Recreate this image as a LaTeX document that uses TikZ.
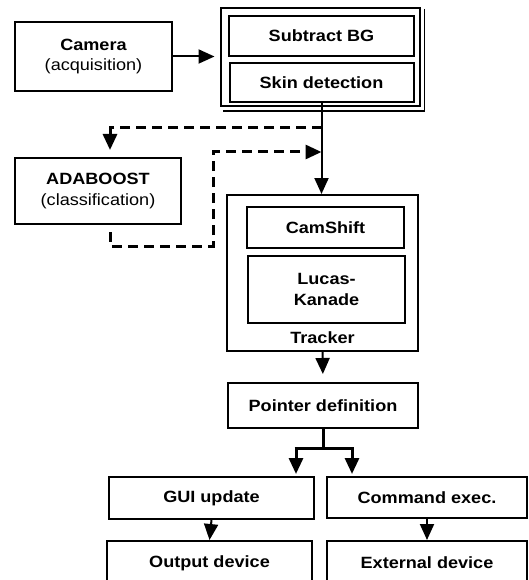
\documentclass[tikz,border=0pt]{standalone}
\usepackage{fontspec}
\setmainfont{Liberation Sans}[FakeStretch=1.11]
\usetikzlibrary{arrows.meta,positioning,calc}

\tikzset{
  box/.style={draw, line width=2pt, align=center, inner sep=0pt, font=\fontsize{16.3}{20.5}\selectfont},
  flow/.style={line width=2pt, -{Triangle[length=16pt,width=14pt]}},
  fork/.style={line width=3pt},
  dashflow/.style={line width=3pt, dash pattern=on 10pt off 6pt, -{Triangle[length=16pt,width=14pt]}}
}

\begin{document}
\begin{tikzpicture}[x=1pt, y=-1pt]
  \useasboundingbox (0,0) rectangle (528,580);
  \clip (0,0) rectangle (528,580);
  \fill[white] (0,0) rectangle (528,580);

  %% Acquisition and preprocessing
  \node[box, minimum width=157pt, minimum height=69pt] (cam) at (93.5,56.5) {\textbf{Camera}\\(acquisition)};
  \node[box, minimum width=199pt, minimum height=98pt] (prep) at (320,57) {};
  \draw[line width=1.6pt] ([shift={(4,2)}]prep.north east) |- ([shift={(3,4)}]prep.south west);
  \node[box, minimum width=185pt, minimum height=40pt, font=\fontsize{16.3}{20.5}\selectfont\bfseries] (subbg) at (321.5,36) {Subtract BG};
  \node[box, minimum width=184pt, minimum height=39pt, font=\fontsize{16.3}{20.5}\selectfont\bfseries] (skin) at (321.5,82.5) {Skin detection};

  %% Classifier
  \node[box, minimum width=166pt, minimum height=66pt] (ada) at (98,191) {\textbf{ADABOOST}\\(classification)};

  %% Tracker
  \node[box, minimum width=191pt, minimum height=156pt,
        label={[anchor=base, yshift=9pt, font=\fontsize{16.3}{20.5}\selectfont\bfseries]south:Tracker}] (tracker) at (322.5,273) {};
  \node[box, minimum width=157pt, minimum height=41pt, font=\fontsize{16.3}{20.5}\selectfont\bfseries] (camshift) at (325.5,227.5) {CamShift};
  \node[box, minimum width=157pt, minimum height=67pt, font=\fontsize{16.3}{20.5}\selectfont\bfseries] (lk) at (326.5,289.5) {Lucas-\\Kanade};

  %% Output side
  \node[box, minimum width=190pt, minimum height=45pt, font=\fontsize{16.3}{20.5}\selectfont\bfseries] (ptr) at (323,405.5) {Pointer definition};
  \node[box, minimum width=205pt, minimum height=42pt, font=\fontsize{16.3}{20.5}\selectfont\bfseries] (gui) at (211.5,498) {GUI update};
  \node[box, minimum width=200pt, minimum height=41pt, font=\fontsize{16.3}{20.5}\selectfont\bfseries] (cmd) at (427,497.5) {Command exec.};
  \node[box, minimum width=205pt, minimum height=44pt, font=\fontsize{16.3}{20.5}\selectfont\bfseries] (out) at (209.5,563) {Output device};
  \node[box, minimum width=200pt, minimum height=44pt, font=\fontsize{16.3}{20.5}\selectfont\bfseries] (ext) at (427,563) {External device};

  \coordinate (split) at (322,128);
  \coordinate (adain) at (110,150);
  \coordinate (back)  at (110,232);
  \coordinate (loop)  at (213,152);
  \coordinate (fl)    at (296,448);
  \coordinate (fr)    at (352,448);

  \draw[flow, shorten >=5pt] (cam.east) -- (cam.east -| prep.west);
  \draw[flow] (skin.south) -- (skin.south |- tracker.north);
  \draw[dashflow] (split) -| (adain);
  \draw[dashflow] (back) -- ++(0,14) -| (loop) -- (skin.south |- loop);
  \draw[flow, shorten >=8pt] (tracker.south) -- (ptr.north);
  \draw[fork] (ptr.south) -- (ptr.south |- fl);
  \draw[fork] ([xshift=-1.5pt]fl) -- ([xshift=1.5pt]fr);
  \draw[fork, -{Triangle[length=16pt,width=14pt]}, shorten >=2pt] (fl) -- (fl |- gui.north);
  \draw[fork, -{Triangle[length=16pt,width=14pt]}, shorten >=2pt] (fr) -- (fr |- cmd.north);
  \draw[flow] (gui.south) -- (out.north);
  \draw[flow] (cmd.south) -- (ext.north);
\end{tikzpicture}
\end{document}
